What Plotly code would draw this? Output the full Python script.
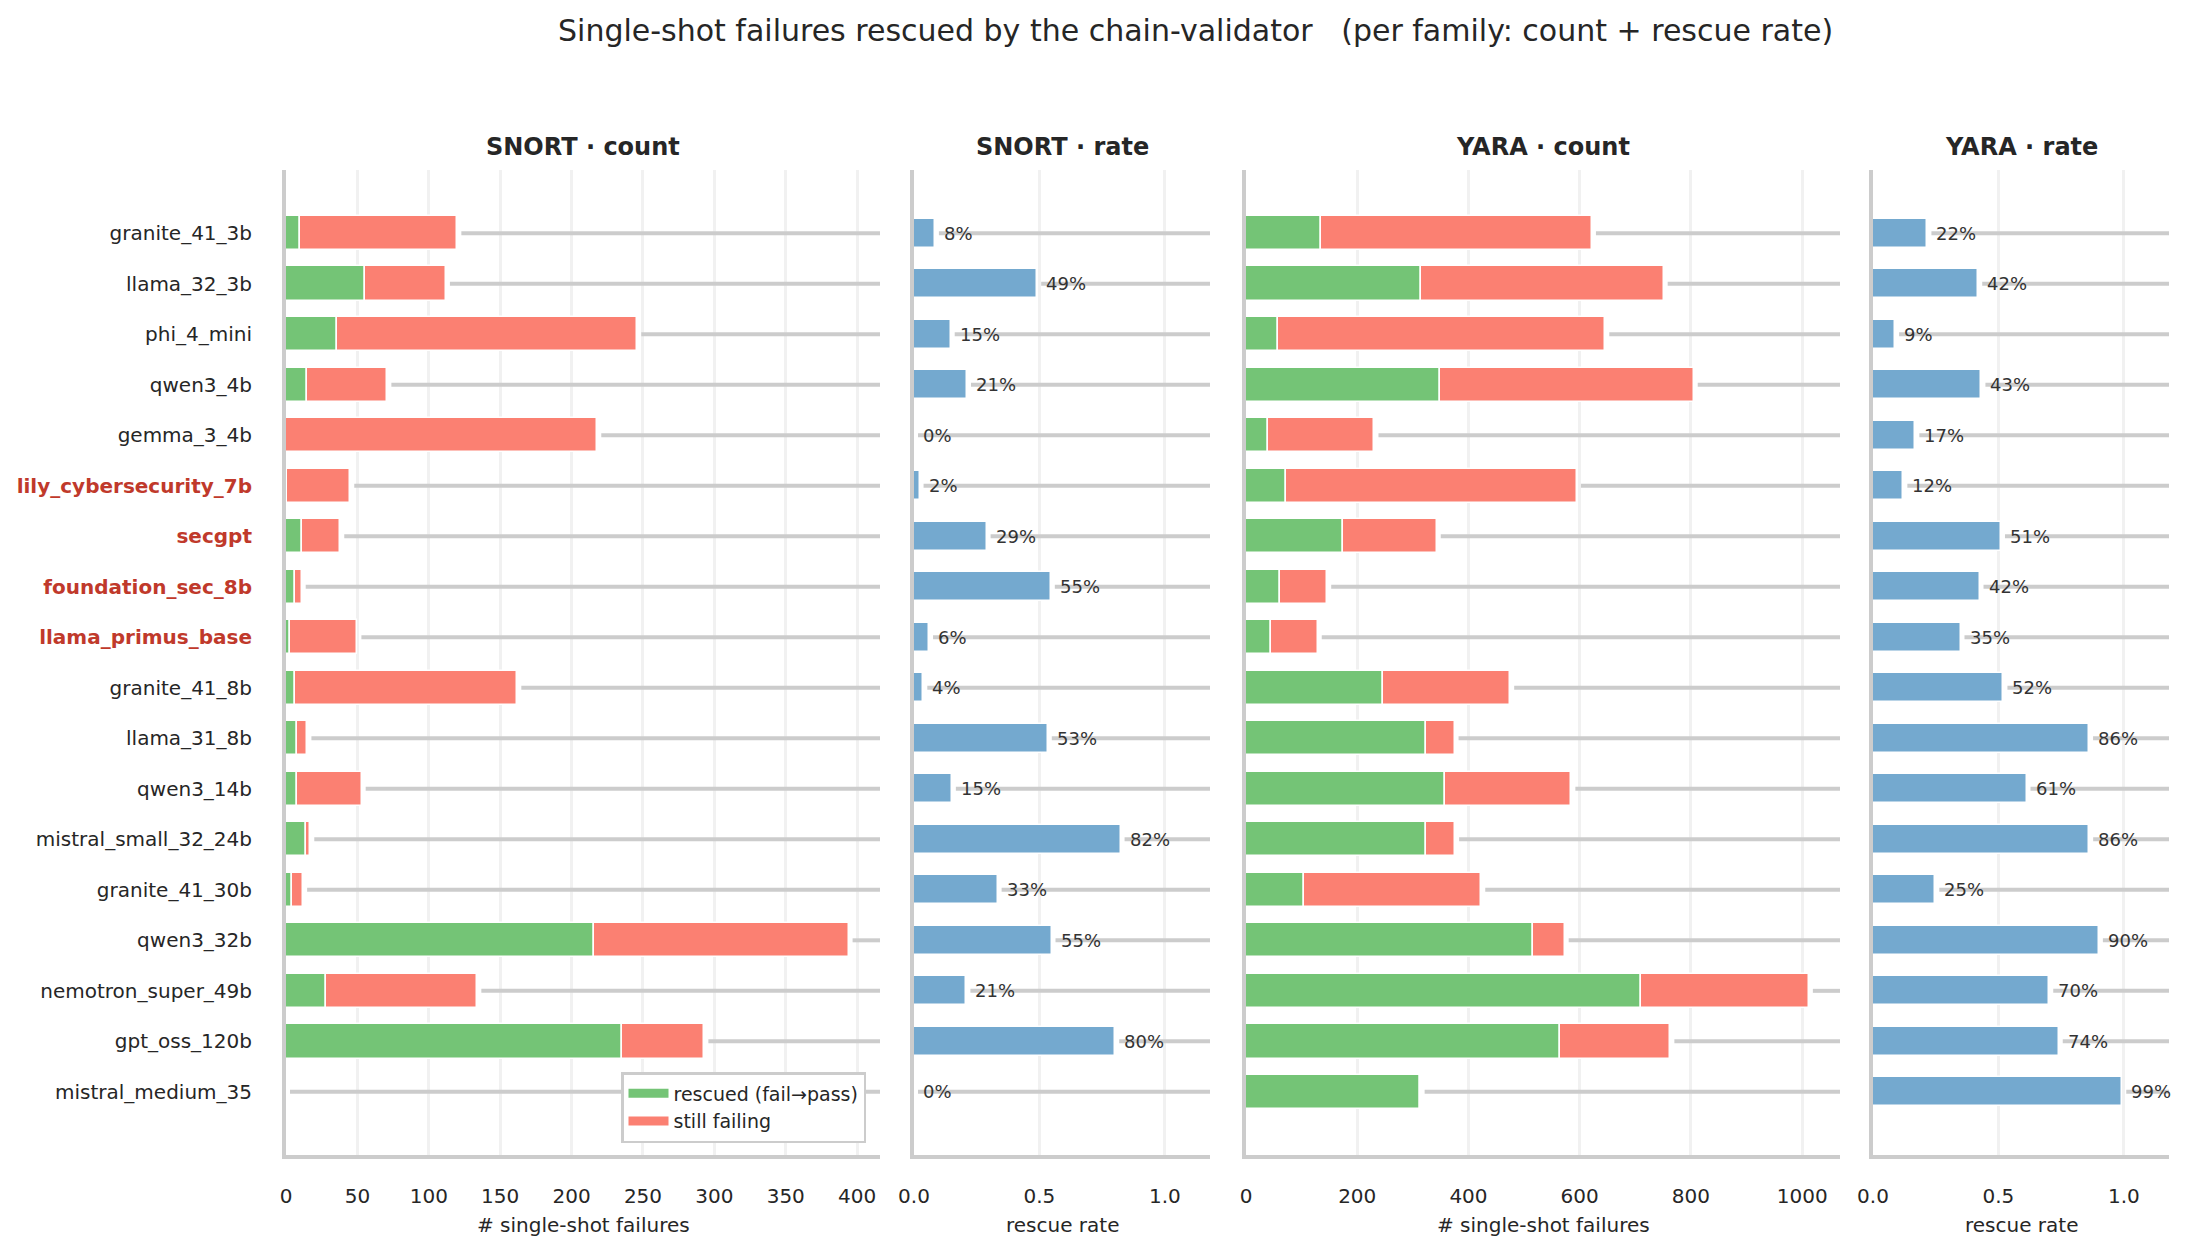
import plotly.graph_objects as go

models = ["granite_41_3b", "llama_32_3b", "phi_4_mini", "qwen3_4b", "gemma_3_4b",
          "lily_cybersecurity_7b", "secgpt", "foundation_sec_8b", "llama_primus_base",
          "granite_41_8b", "llama_31_8b", "qwen3_14b", "mistral_small_32_24b",
          "granite_41_30b", "qwen3_32b", "nemotron_super_49b", "gpt_oss_120b",
          "mistral_medium_35"]
security_models = ["lily_cybersecurity_7b", "secgpt", "foundation_sec_8b", "llama_primus_base"]

snort_rescued = [10, 55, 36, 15, 0, 1, 11, 6, 3, 6, 8, 8, 14, 4, 216, 28, 235, 0]
snort_failing = [110, 57, 210, 56, 218, 44, 27, 5, 47, 156, 7, 45, 3, 8, 178, 106, 58, 0]
yara_rescued = [135, 315, 57, 348, 39, 72, 175, 62, 45, 247, 323, 358, 324, 105, 516, 711, 565, 312]
yara_failing = [487, 436, 589, 457, 192, 523, 168, 84, 84, 228, 52, 227, 52, 318, 57, 301, 198, 2]

title = "Single-shot failures rescued by the chain-validator   (per family: count + rescue rate)"
panel_titles = ["SNORT · count", "SNORT · rate", "YARA · count", "YARA · rate"]
count_xlabel = "# single-shot failures"
rate_xlabel = "rescue rate"
legend_labels = ["rescued (fail→pass)", "still failing"]

# ---- styling ----
W, H = 2186, 1253
FONT = "DejaVu Sans"
TXT = "#262626"
GREEN = "#74c476"
RED = "#fb8072"
BLUE = "#74a9cf"
HL = "#c0392b"
SPINE = "#cccccc"
GRID = "#f1f1f1"
ROWLINE = "#cccccc"

# pixel layout of panels (left, right) and the plot area (top, bottom)
panels_px = [(286, 880), (914, 1210), (1246, 1840), (1873, 2169)]
top_px, bot_px = 170, 1155
xranges = [[0, 416], [0, 1.18], [0, 1068], [0, 1.18]]
dticks = [50, 0.5, 200, 0.5]
ydom = [1 - bot_px / H, 1 - top_px / H]
n = len(models)
yvals = list(range(n))
yrange = [n - 1 + 1.25, -1.25]


def rate(r, f):
    t = r + f
    return r / t if t > 0 else 0.0


snort_total = [r + f for r, f in zip(snort_rescued, snort_failing)]
yara_total = [r + f for r, f in zip(yara_rescued, yara_failing)]
snort_rate = [rate(r, f) for r, f in zip(snort_rescued, snort_failing)]
yara_rate = [rate(r, f) for r, f in zip(yara_rescued, yara_failing)]

fig = go.Figure()

ticktext = []
for m in models:
    if m in security_models:
        ticktext.append(f"<b><span style='color:{HL}'>{m}</span></b>")
    else:
        ticktext.append(m)

shapes = []
annotations = []

for i in range(4):
    ax = "" if i == 0 else str(i + 1)
    xref = "x" + ax
    yref = "y" + ax
    l, r = panels_px[i]
    fig.layout["xaxis" + ax] = dict(
        domain=[l / W, r / W], range=xranges[i], anchor=yref, automargin=False,
        showgrid=True, gridcolor=GRID, gridwidth=2.5, dtick=dticks[i], tick0=0,
        zeroline=False, showline=True, linecolor=SPINE, linewidth=4,
        ticks="outside", ticklen=20, tickcolor="rgba(0,0,0,0)",
        tickfont=dict(family=FONT, size=20, color=TXT),
        tickformat=".1f" if i in (1, 3) else "d",
        fixedrange=True,
    )
    fig.layout["yaxis" + ax] = dict(
        domain=ydom, range=yrange, anchor=xref, automargin=False,
        showgrid=False, zeroline=False, showline=True, linecolor=SPINE, linewidth=4,
        tickvals=yvals, ticktext=ticktext, showticklabels=(i == 0),
        ticks="outside" if i == 0 else "", ticklen=26, tickcolor="rgba(0,0,0,0)",
        tickfont=dict(family=FONT, size=20, color=TXT),
        fixedrange=True,
    )
    # pixel -> data conversion for small offsets
    upp = (xranges[i][1] - xranges[i][0]) / (r - l)
    off = 4 * upp
    ends = [snort_total, snort_rate, yara_total, yara_rate][i]
    for yi, e in zip(yvals, ends):
        shapes.append(dict(type="line", xref=xref, yref=yref, layer="between",
                           x0=e + off, x1=xranges[i][1], y0=yi, y1=yi,
                           line=dict(color=ROWLINE, width=4)))
    # panel title
    annotations.append(dict(text=f"<b>{panel_titles[i]}</b>", xref="paper", yref="paper",
                            x=(l + r) / 2 / W, y=1 - 147 / H, xanchor="center", yanchor="middle",
                            showarrow=False, font=dict(family=FONT, size=24, color=TXT)))
    # axis title
    annotations.append(dict(text=count_xlabel if i in (0, 2) else rate_xlabel,
                            xref="paper", yref="paper",
                            x=(l + r) / 2 / W, y=1 - 1225 / H, xanchor="center", yanchor="middle",
                            showarrow=False, font=dict(family=FONT, size=20, color=TXT)))

# count panels: stacked bars
for i, (resc, fail) in enumerate([(snort_rescued, snort_failing), (yara_rescued, yara_failing)]):
    ax = "" if i == 0 else "3"
    fig.add_trace(go.Bar(y=yvals, x=resc, orientation="h", width=0.68,
                         marker=dict(color=GREEN, line=dict(color="white", width=1.5)),
                         xaxis="x" + ax, yaxis="y" + ax, showlegend=False, hoverinfo="skip"))
    fig.add_trace(go.Bar(y=yvals, x=fail, base=resc, orientation="h", width=0.68,
                         marker=dict(color=RED, line=dict(color="white", width=1.5)),
                         xaxis="x" + ax, yaxis="y" + ax, showlegend=False, hoverinfo="skip"))

# rate panels
for ax, rates in [("2", snort_rate), ("4", yara_rate)]:
    fig.add_trace(go.Bar(y=yvals, x=rates, orientation="h", width=0.57,
                         marker=dict(color=BLUE, line=dict(color="white", width=1.5)),
                         xaxis="x" + ax, yaxis="y" + ax, showlegend=False, hoverinfo="skip"))
    for yi, rv in zip(yvals, rates):
        annotations.append(dict(text=f"{rv:.0%}", xref="x" + ax, yref="y" + ax,
                                x=rv, y=yi, xanchor="left", yanchor="middle", xshift=7,
                                showarrow=False, font=dict(family=FONT, size=18, color="#333333")))

# legend proxies
for lab, col in zip(legend_labels, [GREEN, RED]):
    fig.add_trace(go.Scatter(x=[None], y=[None], mode="lines", name=lab,
                             line=dict(color=col, width=9), xaxis="x", yaxis="y"))

annotations.append(dict(text=title, xref="paper", yref="paper", x=1195 / W, y=1 - 31 / H,
                        xanchor="center", yanchor="middle", showarrow=False,
                        font=dict(family=FONT, size=30, color=TXT)))

fig.update_layout(
    width=W, height=H, margin=dict(l=0, r=0, t=0, b=0, autoexpand=False),
    paper_bgcolor="white", plot_bgcolor="white",
    barmode="overlay", bargap=0,
    shapes=shapes, annotations=annotations,
    font=dict(family=FONT, color=TXT),
    showlegend=True,
    legend=dict(x=866 / W, y=1 - 1143 / H, xanchor="right", yanchor="bottom",
                bgcolor="white", bordercolor=SPINE, borderwidth=2.5,
                font=dict(family=FONT, size=19, color=TXT),
                itemwidth=40, tracegroupgap=0),
)

fig.write_html("out.html")
